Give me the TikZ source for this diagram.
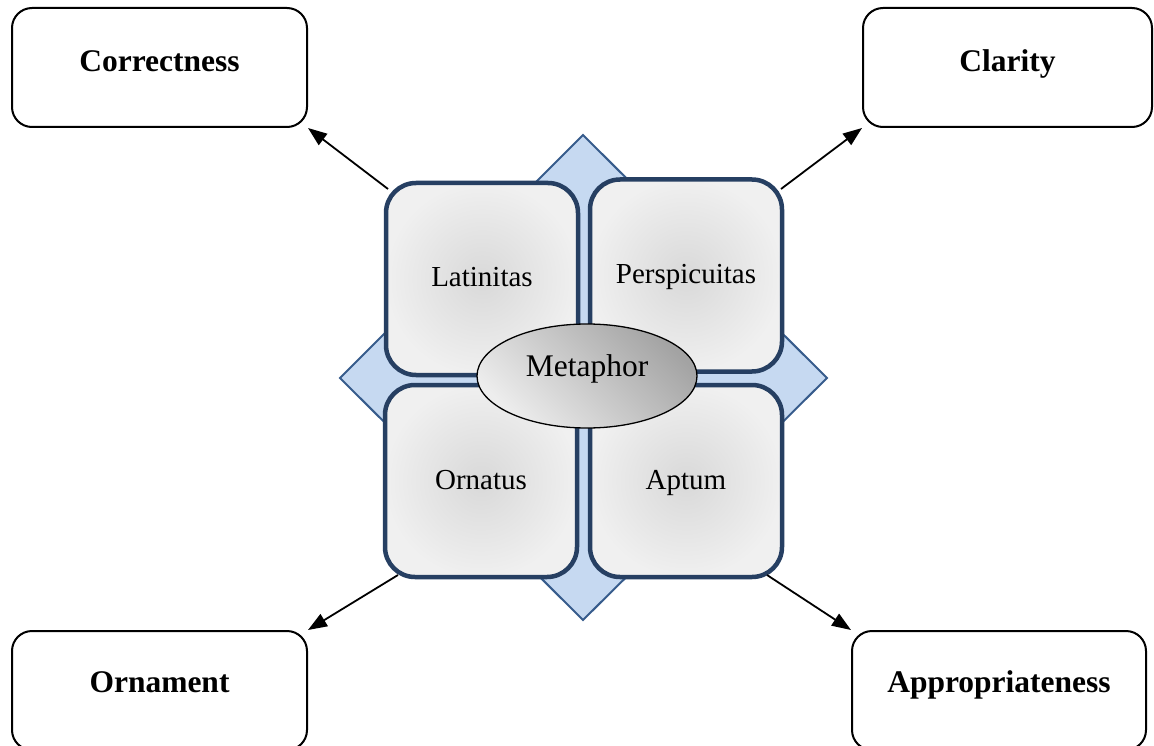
\documentclass[tikz,border=0pt]{standalone}
\usepackage{fontspec}
\setmainfont{Liberation Serif}
\usetikzlibrary{shapes.geometric,arrows.meta}

\definecolor{diamondfill}{HTML}{C6D9F1}
\definecolor{diamondline}{HTML}{375C8C}
\definecolor{navy}{HTML}{263F62}

\tikzset{
  virtue/.style={draw=navy, line width=4.5pt, rounded corners=30pt,
    shading=radial, inner color=black!15, outer color=black!6,
    minimum width=192pt, minimum height=192pt, inner sep=0pt,
    font=\fontsize{29}{34}\selectfont, text height=20pt, text depth=4pt},
  quality/.style={draw=black, line width=2pt, rounded corners=20pt, fill=white,
    minimum height=119pt, inner sep=0pt,
    font=\fontsize{31.5}{36}\selectfont\bfseries},
  link/.style={draw=black, line width=1.8pt,
    -{Triangle[length=19pt,width=14pt]}},
}

\begin{document}
\begin{tikzpicture}[x=1pt, y=-1pt]
  \useasboundingbox (0,0) rectangle (1154,746);

  % blue diamond behind the four squares
  \filldraw[fill=diamondfill, draw=diamondline, line width=2pt, line join=miter]
    (583,135) -- (827,378) -- (583,620) -- (340,378) -- cycle;

  % the four virtues of style
  \node[virtue] (lat) at (482,279) {Latinitas};
  \node[virtue] (per) at (686,275.5) {Perspicuitas};
  \node[virtue] (orn) at (481,481) {Ornatus};
  \node[virtue] (apt) at (686,481) {Aptum};

  % centre
  \node[ellipse, draw=black, line width=1.3pt, shading=axis,
        top color=black!36, bottom color=black!7, shading angle=-45,
        minimum width=220pt, minimum height=104pt, inner sep=0pt,
        font=\fontsize{31.5}{36}\selectfont, text height=12pt, text depth=12pt]
        (met) at (587,376) {Metaphor};

  % corner boxes
  \node[quality, minimum width=295pt, text height=22pt, text depth=13pt]
        (corr) at (159.5,67.5) {Correctness};
  \node[quality, minimum width=289pt, text height=22pt, text depth=13pt]
        (clar) at (1007.5,67.5) {Clarity};
  \node[quality, minimum width=295pt, text height=16pt, text depth=13pt]
        (orna) at (159.5,690.5) {Ornament};
  \node[quality, minimum width=294pt, text height=16pt, text depth=13pt]
        (appr) at (999,690.5) {Appropriateness};

  % arrow start points beside the squares
  \coordinate (s1) at (388,189);
  \coordinate (s2) at (781,189);
  \coordinate (s3) at (398,575);
  \coordinate (s4) at (767,575);

  \draw[link] (s1) -- (corr.south east);
  \draw[link] (s2) -- (clar.south west);
  \draw[link] (s3) -- (orna.north east);
  \draw[link] (s4) -- (appr.north west);
\end{tikzpicture}
\end{document}
